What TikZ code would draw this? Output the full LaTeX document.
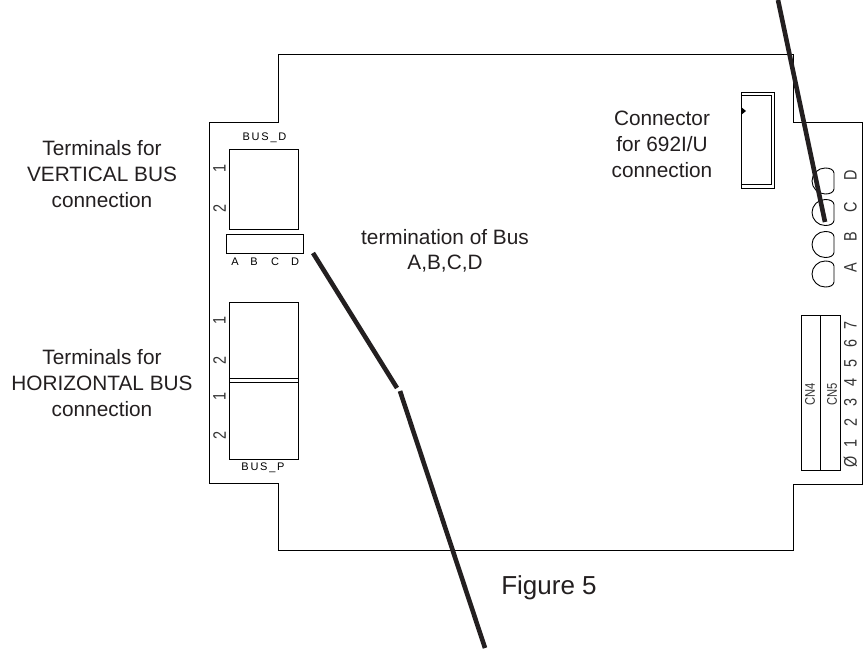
\documentclass[tikz,border=0pt]{standalone}
\usepackage{fontspec}
\setmainfont{Liberation Sans}
\newfontfamily\boardfont[LetterSpace=16]{Liberation Sans}
\newfontfamily\narrowfont[FakeStretch=.8]{Liberation Sans}
\definecolor{inkgray}{HTML}{231F20}

\begin{document}
\begin{tikzpicture}[x=1pt,y=-1pt]
\tikzstyle{every node}=[inner sep=0pt, text=inkgray]
\tikzstyle{callout}=[align=center, font=\fontsize{20.8}{26}\selectfont]
\tikzstyle{silk}=[font=\boardfont\fontsize{11}{12}\selectfont, text=black]
\tikzstyle{silkup}=[rotate=90, font=\narrowfont\fontsize{18}{18}\selectfont, text=black!80]
\tikzstyle{cnlabel}=[rotate=90, font=\narrowfont\fontsize{14}{14}\selectfont, text=black!80]
\tikzstyle{leader}=[draw=inkgray, line width=4.6pt]
\tikzstyle{board}=[draw=black, line width=.9pt]
\useasboundingbox (0,0) rectangle (867,652);
\fill[white] (0,0) rectangle (867,652);
\draw[board] (278,54) -- (793,54) -- (793,122) -- (862,122) -- (862,484) -- (793,484) -- (793,550) -- (278,550) -- (278,483) -- (209,483) -- (209,122) -- (278,122) -- cycle;
\draw[board] (229,149) rectangle (298,229);
\draw[board] (226,234) rectangle (303,253);
\draw[board] (229,302) rectangle (298,459);
\draw[board] (229,378) -- (298,378);
\draw[board] (229,382) -- (298,382);
\draw[board] (741,92) rectangle (774,188);
\draw[board] (741,95) -- (771,95) -- (771,184) -- (741,184);
\fill (741,107) -- (746,111) -- (741,115) -- cycle;
\foreach \y in {181,212.5,244.5,274}
  \draw[board] (834,\y-8) .. controls (833.5,\y-11.5) and (830,\y-13) .. (825,\y-13) .. controls (818,\y-13) and (812,\y-7) .. (812,\y) .. controls (812,\y+7) and (818,\y+13) .. (825,\y+13) .. controls (830,\y+13) and (833.5,\y+11.5) .. (834,\y+8) -- cycle;
\draw[board] (801,315) rectangle (840,470);
\draw[board] (820.5,315) -- (820.5,470);
\draw (102,174) node (vertical) [callout] {Terminals for\\VERTICAL BUS\\connection};
\draw (102,383) node (horizontal) [callout] {Terminals for\\HORIZONTAL BUS\\connection};
\draw (662,144) node (connector) [callout] {Connector\\for 692I/U\\connection};
\draw (445,251) node (termination) [callout, font=\fontsize{20.8}{25}\selectfont] {termination of Bus\\A,B,C,D};
\draw (549,594) node (figure) [anchor=base, font=\fontsize{26}{28}\selectfont] {Figure 5};
\draw (264.5,138) node (busd) [silk] {BUS\_D};
\draw (263,468) node (busp) [silk] {BUS\_P};
\draw (235,262) node (ta) [silk] {A};
\draw (254,262) node (tb) [silk] {B};
\draw (275,262) node (tc) [silk] {C};
\draw (295,262) node (td) [silk] {D};
\draw (219.5,168) node (va) [silkup] {1};
\draw (219.5,208) node (vb) [silkup] {2};
\draw (219.5,320) node (ha) [silkup] {1};
\draw (219.5,360) node (hb) [silkup] {2};
\draw (219.5,396) node (hc) [silkup] {1};
\draw (219.5,435) node (hd) [silkup] {2};
\draw (850.5,175) node (rd) [silkup] {D};
\draw (850.5,207) node (rc) [silkup] {C};
\draw (850.5,237) node (rb) [silkup] {B};
\draw (850.5,268) node (ra) [silkup] {A};
\draw (850.5,325) node (p7) [silkup] {7};
\draw (850.5,343) node (p6) [silkup] {6};
\draw (850.5,363) node (p5) [silkup] {5};
\draw (850.5,382) node (p4) [silkup] {4};
\draw (850.5,402) node (p3) [silkup] {3};
\draw (850.5,422) node (p2) [silkup] {2};
\draw (850.5,443) node (p1) [silkup] {1};
\draw (850.5,462) node (p0) [silkup] {Ø};
\draw (810,394) node (cn4) [cnlabel] {CN4};
\draw (832,394) node (cn5) [cnlabel] {CN5};
\coordinate (upper) at (778,0);
\coordinate (socket) at (825,222);
\coordinate (term) at (313,253);
\coordinate (benda) at (397,388);
\coordinate (bendb) at (400,391);
\coordinate (lower) at (485,648);
\draw[leader] (upper) -- (socket);
\draw[leader] (term) -- (benda);
\draw[leader] (bendb) -- (lower);
\end{tikzpicture}
\end{document}
